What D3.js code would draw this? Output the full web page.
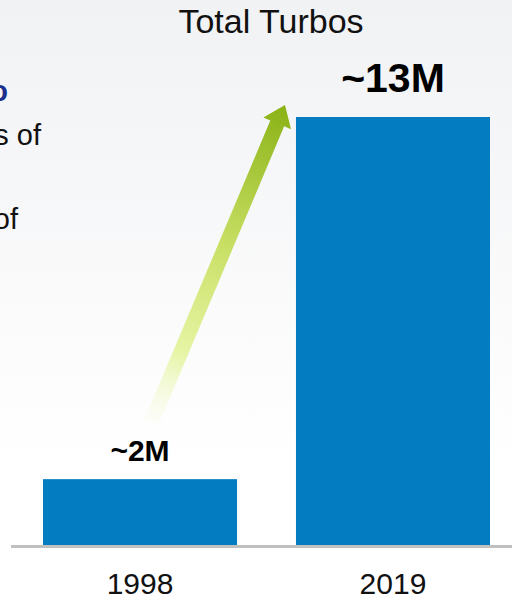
<!DOCTYPE html>
<html>
<head>
<meta charset="utf-8">
<script src="https://cdn.jsdelivr.net/npm/d3@7"></script>
<style>
  html, body { margin: 0; padding: 0; background: #fff; }
  svg { display: block; font-family: "Liberation Sans", Arial, sans-serif; }
</style>
</head>
<body>
<svg id="chart" width="512" height="598"></svg>
<script>
// Installed turbo base, millions of units
const years = ["1998", "2019"];
const turboMillions = [2, 13];
const valueLabels = ["~2M", "~13M"];
const chartTitle = "Total Turbos";

const W = 512, H = 598;
const svg = d3.select("#chart");
const defs = svg.append("defs");

// Soft slide background
const bg = defs.append("linearGradient")
  .attr("id", "bgGrad").attr("x1", 0).attr("y1", 0).attr("x2", 0).attr("y2", 1);
bg.append("stop").attr("offset", "0%").attr("stop-color", "#f1f2f4");
bg.append("stop").attr("offset", "78%").attr("stop-color", "#ffffff");
bg.append("stop").attr("offset", "100%").attr("stop-color", "#ffffff");
svg.append("rect").attr("width", W).attr("height", H).attr("fill", "url(#bgGrad)");

// Side text running off the left edge of the slide
const side = svg.append("g");
side.append("text").attr("x", 8).attr("y", 101).attr("text-anchor", "end")
  .attr("font-size", 29).attr("font-weight", "bold").attr("fill", "#1b2f8c").text("Turbo");
side.append("text").attr("x", 41).attr("y", 145).attr("text-anchor", "end")
  .attr("font-size", 29).attr("fill", "#111").text("units of");
side.append("text").attr("x", 18).attr("y", 229).attr("text-anchor", "end")
  .attr("font-size", 29).attr("fill", "#111").text("share of");

// Scales
const x = d3.scaleBand().domain(years).range([17.7, 515.3]).paddingInner(0.233).paddingOuter(0.1);
const y = d3.scaleLinear().domain([0, 13]).range([545, 117]);

// Title
svg.append("text").attr("x", 271).attr("y", 33).attr("text-anchor", "middle")
  .attr("font-size", 34).attr("fill", "#111").text(chartTitle);

// Growth arrow from the 1998 bar up to the 2019 bar
const x0 = x(years[0]) + x.bandwidth() / 2 + 11;
const y0 = y(turboMillions[0]) - 56;
const x1 = x(years[1]) - 11;
const y1 = y(turboMillions[1]) - 12;

const len = Math.hypot(x1 - x0, y1 - y0);
const ang = Math.atan2(y1 - y0, x1 - x0) * 180 / Math.PI;
const arrowGrad = defs.append("linearGradient")
  .attr("id", "arrowGrad").attr("gradientUnits", "userSpaceOnUse")
  .attr("x1", 0).attr("y1", 0).attr("x2", len).attr("y2", 0);
arrowGrad.append("stop").attr("offset", "0%").attr("stop-color", "#f6fbe0").attr("stop-opacity", 0.15);
arrowGrad.append("stop").attr("offset", "22%").attr("stop-color", "#e6f5a6");
arrowGrad.append("stop").attr("offset", "55%").attr("stop-color", "#c9e066");
arrowGrad.append("stop").attr("offset", "100%").attr("stop-color", "#8ab215");

const shaftW = 15, headW = 30, headL = 20;
const arrowPts = [
  [0, -shaftW / 2], [len - headL, -shaftW / 2], [len - headL, -headW / 2],
  [len, 0],
  [len - headL, headW / 2], [len - headL, shaftW / 2], [0, shaftW / 2]
];
// Drawn along the x axis, then rotated onto the arrow direction
svg.append("g").attr("transform", `translate(${x0},${y0}) rotate(${ang})`)
  .append("path")
  .attr("d", d3.line()(arrowPts) + "Z")
  .attr("fill", "url(#arrowGrad)");

// Bars
const rows = years.map((yr, i) => ({ year: yr, value: turboMillions[i], label: valueLabels[i], i }));
const labelSize = [30, 41];
svg.append("g").selectAll("rect").data(rows).join("rect")
  .attr("x", d => x(d.year))
  .attr("y", d => y(d.value))
  .attr("width", x.bandwidth())
  .attr("height", d => y(0) - y(d.value))
  .attr("fill", "#047cc2");

// Value labels
svg.append("g").selectAll("text").data(rows).join("text")
  .attr("x", d => x(d.year) + x.bandwidth() / 2)
  .attr("y", d => y(d.value) - labelSize[d.i] * 0.62)
  .attr("text-anchor", "middle")
  .attr("font-weight", "bold")
  .attr("font-size", d => labelSize[d.i])
  .attr("fill", "#000")
  .text(d => d.label);

// Category axis
const axis = svg.append("g").attr("transform", `translate(0,${y(0) + 1.5})`)
  .call(d3.axisBottom(x).tickSize(0).tickPadding(26));
axis.select(".domain").remove();
axis.append("line").attr("x1", 11).attr("x2", W).attr("y1", 0).attr("y2", 0)
  .attr("stroke", "#c0c0c0").attr("stroke-width", 3);
axis.selectAll(".tick text")
  .attr("font-size", 30)
  .attr("font-family", "Liberation Sans, Arial, sans-serif")
  .attr("fill", "#111");
</script>
</body>
</html>
